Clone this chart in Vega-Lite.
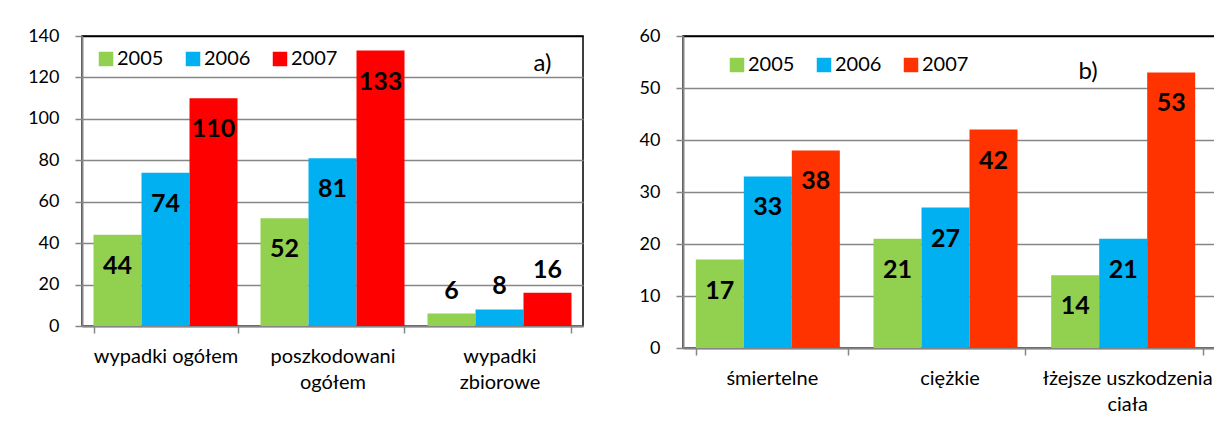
{
  "$schema": "https://vega.github.io/schema/vega-lite/v6.json",
  "padding": {"left": 26, "top": 26, "right": 0, "bottom": 0},
  "background": "white",
  "spacing": 54,
  "config": {
    "font": "Lato",
    "view": {"stroke": "black", "strokeWidth": 1.5},
    "axis": {
      "labelFont": "Lato", "labelColor": "black",
      "domainColor": "#868686", "domainWidth": 2,
      "tickColor": "#868686", "tickWidth": 1.5, "tickSize": 7,
      "gridWidth": 1.5,
      "title": null
    },
    "legend": {
      "orient": "none", "direction": "horizontal", "title": null,
      "symbolType": "square", "symbolSize": 210, "symbolStrokeWidth": 0,
      "labelFontSize": 20, "labelFont": "Lato", "labelColor": "black",
      "padding": 0, "columnPadding": 19, "labelOffset": 1
    }
  },
  "datasets": {
    "a": [
      {"cat": "wypadki ogółem", "year": "2005", "v": 44},
      {"cat": "wypadki ogółem", "year": "2006", "v": 74},
      {"cat": "wypadki ogółem", "year": "2007", "v": 110},
      {"cat": "poszkodowani ogółem", "year": "2005", "v": 52},
      {"cat": "poszkodowani ogółem", "year": "2006", "v": 81},
      {"cat": "poszkodowani ogółem", "year": "2007", "v": 133},
      {"cat": "wypadki zbiorowe", "year": "2005", "v": 6},
      {"cat": "wypadki zbiorowe", "year": "2006", "v": 8},
      {"cat": "wypadki zbiorowe", "year": "2007", "v": 16}
    ],
    "b": [
      {"cat": "śmiertelne", "year": "2005", "v": 17},
      {"cat": "śmiertelne", "year": "2006", "v": 33},
      {"cat": "śmiertelne", "year": "2007", "v": 38},
      {"cat": "ciężkie", "year": "2005", "v": 21},
      {"cat": "ciężkie", "year": "2006", "v": 27},
      {"cat": "ciężkie", "year": "2007", "v": 42},
      {"cat": "łżejsze uszkodzenia ciała", "year": "2005", "v": 14},
      {"cat": "łżejsze uszkodzenia ciała", "year": "2006", "v": 21},
      {"cat": "łżejsze uszkodzenia ciała", "year": "2007", "v": 53}
    ]
  },
  "resolve": {"scale": {"color": "independent"}, "legend": {"color": "independent"}},
  "hconcat": [
    {
      "width": 501, "height": 290,
      "data": {"name": "a"},
      "encoding": {
        "x": {
          "field": "cat", "type": "nominal", "sort": null,
          "scale": {"paddingInner": 0.1377, "paddingOuter": 0.0689},
          "axis": {
            "labelAngle": 0, "labelFontSize": 20, "labelPadding": 13, "labelLineHeight": 26,
            "tickBand": "extent",
            "labelExpr": "datum.label == 'poszkodowani ogółem' ? ['poszkodowani', 'ogółem'] : datum.label == 'wypadki zbiorowe' ? ['wypadki', 'zbiorowe'] : datum.label"
          }
        },
        "y": {
          "field": "v", "type": "quantitative",
          "scale": {"domain": [0, 140], "nice": false},
          "axis": {
            "values": [0, 20, 40, 60, 80, 100, 120, 140], "labelFontSize": 18, "labelPadding": 16, "grid": true,
            "gridColor": {"condition": {"test": "datum.value == 140", "value": "black"}, "value": "#868686"}
          }
        }
      },
      "layer": [
        {
          "mark": {"type": "bar"},
          "encoding": {
            "xOffset": {"field": "year", "type": "nominal", "scale": {"paddingInner": 0, "paddingOuter": 0}},
            "color": {
              "field": "year", "type": "nominal",
              "scale": {"domain": ["2005", "2006", "2007"], "range": ["#92D050", "#00B0F0", "#FF0000"]},
              "legend": {"legendX": 14, "legendY": 13}
            }
          }
        },
        {
          "transform": [{"filter": "datum.v >= 20"}],
          "mark": {"type": "text", "dy": 31, "fontSize": 25, "fontWeight": "bold", "font": "Lato", "color": "black"},
          "encoding": {
            "xOffset": {"field": "year", "type": "nominal"},
            "text": {"field": "v", "type": "quantitative"}
          }
        },
        {
          "transform": [{"filter": "datum.v < 20"}],
          "mark": {"type": "text", "dy": -23, "fontSize": 25, "fontWeight": "bold", "font": "Lato", "color": "black"},
          "encoding": {
            "xOffset": {"field": "year", "type": "nominal"},
            "text": {"field": "v", "type": "quantitative"}
          }
        },
        {
          "data": {"values": [{"label": "a)", "cat": "wypadki zbiorowe", "v": 126.5}]},
          "mark": {"type": "text", "dx": 43, "fontSize": 24, "font": "Lato", "color": "black"},
          "encoding": {"text": {"field": "label", "type": "nominal"}}
        }
      ]
    },
    {
      "width": 533, "height": 312,
      "data": {"name": "b"},
      "encoding": {
        "x": {
          "field": "cat", "type": "nominal", "sort": null,
          "scale": {"paddingInner": 0.1445, "paddingOuter": 0.0722},
          "axis": {
            "labelAngle": 0, "labelFontSize": 20, "labelPadding": 13, "labelLineHeight": 26,
            "tickBand": "extent",
            "labelExpr": "datum.label == 'łżejsze uszkodzenia ciała' ? ['łżejsze uszkodzenia', 'ciała'] : datum.label"
          }
        },
        "y": {
          "field": "v", "type": "quantitative",
          "scale": {"domain": [0, 60], "nice": false},
          "axis": {
            "values": [0, 10, 20, 30, 40, 50, 60], "labelFontSize": 18, "labelPadding": 16, "grid": true,
            "gridColor": {"condition": {"test": "datum.value == 60", "value": "black"}, "value": "#868686"}
          }
        }
      },
      "layer": [
        {
          "mark": {"type": "bar"},
          "encoding": {
            "xOffset": {"field": "year", "type": "nominal", "scale": {"paddingInner": 0, "paddingOuter": 0}},
            "color": {
              "field": "year", "type": "nominal",
              "scale": {"domain": ["2005", "2006", "2007"], "range": ["#92D050", "#00B0F0", "#FF3300"]},
              "legend": {"legendX": 44, "legendY": 19}
            }
          }
        },
        {
          "mark": {"type": "text", "dy": 31, "fontSize": 25, "fontWeight": "bold", "font": "Lato", "color": "black"},
          "encoding": {
            "xOffset": {"field": "year", "type": "nominal"},
            "text": {"field": "v", "type": "quantitative"}
          }
        },
        {
          "data": {"values": [{"label": "b)", "cat": "łżejsze uszkodzenia ciała", "v": 53.1}]},
          "mark": {"type": "text", "dx": -39, "fontSize": 24, "font": "Lato", "color": "black"},
          "encoding": {"text": {"field": "label", "type": "nominal"}}
        }
      ]
    }
  ]
}
